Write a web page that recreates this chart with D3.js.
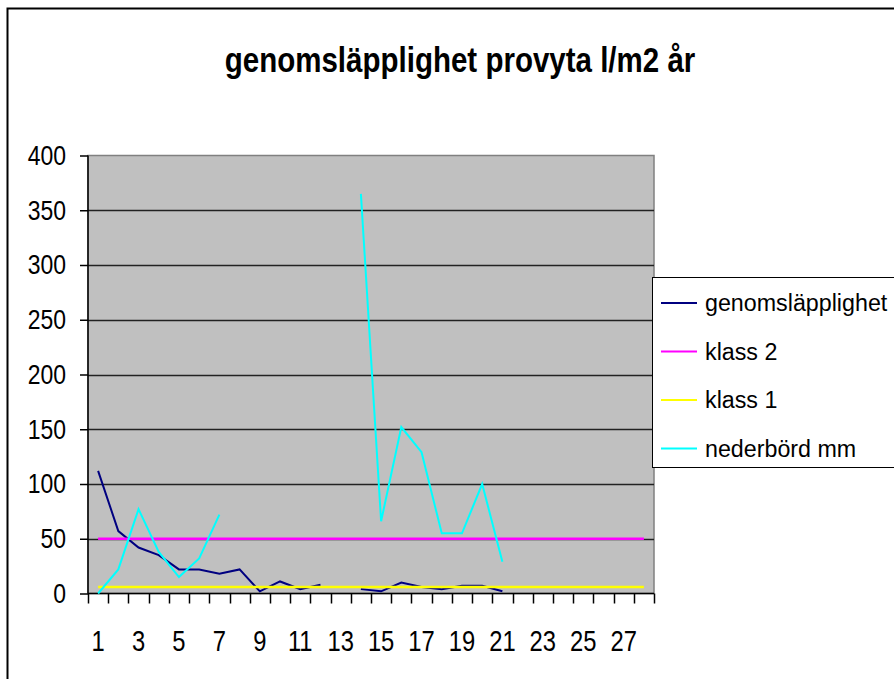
<!DOCTYPE html>
<html>
<head>
<meta charset="utf-8">
<script src="https://cdn.jsdelivr.net/npm/d3@7"></script>
<style>
  body { margin: 0; background: #fff; }
  svg { display: block; }
  text { font-family: "Liberation Sans", Arial, sans-serif; }
</style>
</head>
<body>
<svg id="chart" width="894" height="679"></svg>
<script>
(function() {

// chart data
var title = 'genomsläpplighet provyta l/m2 år';
var categories = d3.range(1, 29);
var genomslapplighet = [112, 57, 42, 35, 22, 22, 18, 22, 2, 11, 4, 8, null, 4, 2, 10, 6, 4, 7, 7, 2, null, null, null, null, null, null, null];
var klass2 = categories.map(function() { return 50; });
var klass1 = categories.map(function() { return 6; });
var nederbord = [0, 22, 77, 38, 15, 32, 72, null, null, null, null, null, null, 365, 66, 152, 129, 55, 55, 100, 29, null, null, null, null, null, null, null];
var yTicks = [0, 50, 100, 150, 200, 250, 300, 350, 400];

var series = [
    { name: 'genomsläpplighet', values: genomslapplighet, color: '#000080', width: 2 },
    { name: 'klass 2', values: klass2, color: '#ff00ff', width: 2.5 },
    { name: 'klass 1', values: klass1, color: '#ffff00', width: 2.5 },
    { name: 'nederbörd mm', values: nederbord, color: '#00ffff', width: 2 }
];

// the original uses a narrow face; squeeze the regular one
var squeeze = 0.82;

var svg = d3.select('#chart');

// outer frame (open on right and bottom)
svg.append('path')
    .attr('d', 'M7.5,679V8.5H894')
    .attr('fill', 'none')
    .attr('stroke', '#000')
    .attr('stroke-width', 2);

svg.append('text')
    .attr('transform', 'translate(460,72) scale(' + squeeze + ',1)')
    .attr('text-anchor', 'middle')
    .attr('font-size', 36)
    .attr('font-weight', 'bold')
    .text(title);

var plot = { left: 88, right: 654, top: 155.5, bottom: 593.5 };

var x = d3.scaleBand()
    .domain(categories)
    .range([plot.left, plot.right]);

var y = d3.scaleLinear()
    .domain([0, 400])
    .range([plot.bottom, plot.top]);

function cx(d) { return x(d) + x.bandwidth() / 2; }

// plot background
svg.append('rect')
    .attr('x', plot.left)
    .attr('y', plot.top)
    .attr('width', plot.right - plot.left)
    .attr('height', plot.bottom - plot.top)
    .attr('fill', '#c0c0c0')
    .attr('stroke', '#808080')
    .attr('stroke-width', 1.5);

// gridlines
svg.append('g')
    .selectAll('line')
    .data(yTicks.filter(function(t) { return t > 0 && t < 400; }))
  .enter().append('line')
    .attr('x1', plot.left)
    .attr('x2', plot.right)
    .attr('y1', function(d) { return Math.round(y(d)) + 0.5; })
    .attr('y2', function(d) { return Math.round(y(d)) + 0.5; })
    .attr('stroke', '#222')
    .attr('stroke-width', 1.5);

// y axis
var yAxis = svg.append('g')
    .attr('transform', 'translate(' + plot.left + ',0)')
    .call(d3.axisLeft(y).tickValues(yTicks).tickSize(8));
yAxis.selectAll('line, path').attr('stroke', '#000').attr('stroke-width', 1.5);
yAxis.select('.domain').attr('d', 'M0,' + plot.top + 'V' + plot.bottom);
yAxis.selectAll('text')
    .attr('x', 0)
    .attr('transform', 'translate(-22,0) scale(' + squeeze + ',1)')
    .attr('font-size', 28)
    .attr('fill', '#000');

// x axis
var xAxis = svg.append('g')
    .attr('transform', 'translate(0,' + plot.bottom + ')');
xAxis.append('line')
    .attr('x1', plot.left).attr('x2', plot.right)
    .attr('stroke', '#000').attr('stroke-width', 1.5);
xAxis.selectAll('.tick')
    .data(categories.concat([null]))
  .enter().append('line')
    .attr('x1', function(d, i) { return Math.round(plot.left + i * x.bandwidth()) + 0.5; })
    .attr('x2', function(d, i) { return Math.round(plot.left + i * x.bandwidth()) + 0.5; })
    .attr('y1', 0).attr('y2', 10)
    .attr('stroke', '#000').attr('stroke-width', 1.5);
xAxis.selectAll('.lbl')
    .data(categories.filter(function(c) { return c % 2 === 1; }))
  .enter().append('text')
    .attr('transform', function(d) { return 'translate(' + cx(d) + ',57) scale(' + squeeze + ',1)'; })
    .attr('text-anchor', 'middle')
    .attr('font-size', 29)
    .text(function(d) { return d; });

// lines
var line = d3.line()
    .defined(function(d) { return d.v !== null; })
    .x(function(d) { return cx(d.c); })
    .y(function(d) { return y(d.v); });

svg.append('g')
    .selectAll('path')
    .data(series)
  .enter().append('path')
    .attr('fill', 'none')
    .attr('stroke', function(s) { return s.color; })
    .attr('stroke-width', function(s) { return s.width; })
    .attr('d', function(s) {
        return line(categories.map(function(c, i) { return { c: c, v: s.values[i] }; }));
    });

// legend
var legend = svg.append('g');
legend.append('rect')
    .attr('x', 652.5).attr('y', 277.5)
    .attr('width', 260).attr('height', 190)
    .attr('fill', '#fff')
    .attr('stroke', '#000')
    .attr('stroke-width', 1);

var items = legend.selectAll('.item')
    .data(series)
  .enter().append('g')
    .attr('transform', function(d, i) { return 'translate(0,' + (303 + i * 48.5) + ')'; });
items.append('line')
    .attr('x1', 661).attr('x2', 697)
    .attr('stroke', function(d) { return d.color; })
    .attr('stroke-width', 2);
items.append('text')
    .attr('transform', 'translate(705,8) scale(0.95,1)')
    .attr('font-size', 24.5)
    .text(function(d) { return d.name; });

})();
</script>
</body>
</html>
